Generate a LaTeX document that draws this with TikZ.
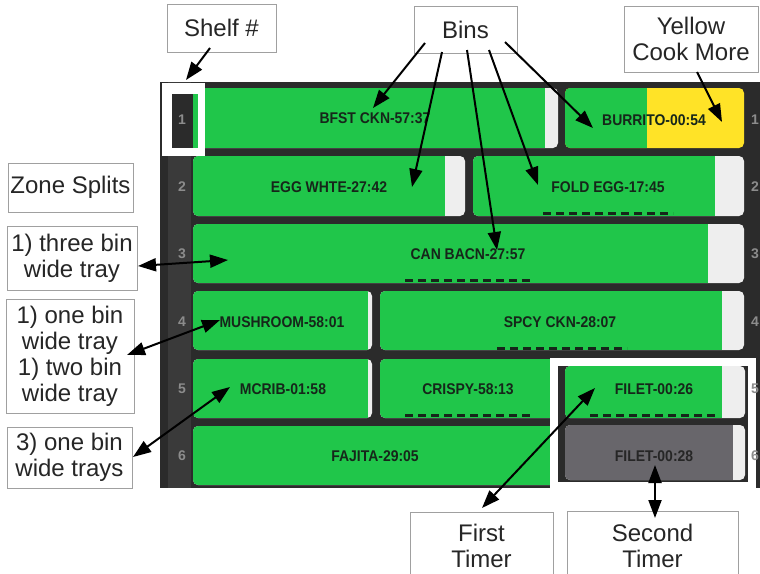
\documentclass[tikz,border=0pt]{standalone}
\usepackage{fontspec}
\setmainfont{Liberation Sans}
\newfontfamily\binfont[FakeStretch=0.9]{Liberation Sans}
\usetikzlibrary{arrows.meta}
\definecolor{scr}{HTML}{2B2B2B}
\definecolor{scrcol}{HTML}{3A3A3A}
\definecolor{bingreen}{HTML}{20C64A}
\definecolor{tailc}{HTML}{EEEEEE}
\definecolor{binyellow}{HTML}{FFE327}
\definecolor{bingray}{HTML}{68666B}
\definecolor{bintext}{HTML}{16261A}
\definecolor{numgray}{HTML}{8C8C8C}
\definecolor{boxline}{HTML}{A0A0A0}
\newcommand\drawbin[7]{%
  \fill[#7, rounded corners=5pt] (#1,#2) rectangle (#3,#4);
  \begin{scope}
    \clip[rounded corners=5pt] (#1,#2) rectangle (#3,#4);
    \fill[#6] (#1,#2) rectangle (#5,#4);
  \end{scope}}
\begin{document}
\begin{tikzpicture}[x=1pt,y=-1pt,
  callout/.style={draw=boxline, line width=0.8pt, fill=white, align=center, inner sep=0pt,
    font=\fontsize{24}{26}\selectfont, text=black!85},
  bintxt/.style={font=\binfont\bfseries\fontsize{15.5}{17}\selectfont, text=bintext, inner sep=0pt},
  shelfno/.style={font=\bfseries\fontsize{14}{16}\selectfont, text=numgray, inner sep=0pt},
  arr/.style={line width=2pt, -{Triangle[length=18pt,width=13pt]}},
  darr/.style={line width=2pt, {Triangle[length=18pt,width=13pt]}-{Triangle[length=18pt,width=13pt]}},
  dashl/.style={line width=3pt, dash pattern=on 8pt off 5pt, draw=bintext}]
\useasboundingbox[fill=white] (0,0) rectangle (760,573);
% screen
\fill[scr] (160,82) rectangle (760,488);
\fill[scrcol] (168,82) rectangle (191,488);
% row 1
\drawbin{193}{88}{558}{148}{545}{bingreen}{tailc}
\drawbin{565}{88}{744}{148}{647}{bingreen}{binyellow}
% row 2
\drawbin{193}{156}{465}{216}{445}{bingreen}{tailc}
\drawbin{473}{156}{744}{216}{715}{bingreen}{tailc}
% row 3
\drawbin{193}{224}{744}{283}{708}{bingreen}{tailc}
% row 4
\drawbin{193}{291}{372}{350}{368}{bingreen}{tailc}
\drawbin{380}{291}{744}{350}{722}{bingreen}{tailc}
% row 5
\drawbin{193}{359}{372}{418}{368}{bingreen}{tailc}
\drawbin{380}{359}{570}{418}{570}{bingreen}{tailc}
% row 6
\drawbin{193}{426}{570}{485}{570}{bingreen}{tailc}
% highlight frame
\fill[white] (550,358) rectangle (756,489);
\fill[scr] (558,366) rectangle (748,482);
\drawbin{565}{366}{745}{418}{722}{bingreen}{tailc}
\drawbin{565}{425}{745}{480}{733}{bingray}{tailc}
% shelf 1 highlight
\fill[white] (162,83) rectangle (205,156);
\fill[scr] (172,94) rectangle (193,148);
\fill[bingreen] (193,94) rectangle (198,148);
% shelf numbers
\node[shelfno] (l1) at (182,120) {1};
\node[shelfno] (l2) at (182,187) {2};
\node[shelfno] (l3) at (182,254) {3};
\node[shelfno] (l4) at (182,322) {4};
\node[shelfno] (l5) at (182,389) {5};
\node[shelfno] (l6) at (182,456) {6};
\node[shelfno, anchor=west] (r1) at (751,120) {1};
\node[shelfno, anchor=west] (r2) at (751,187) {2};
\node[shelfno, anchor=west] (r3) at (751,254) {3};
\node[shelfno, anchor=west] (r4) at (751,322) {4};
\node[shelfno, anchor=west] (r5) at (751,389) {5};
\node[shelfno, anchor=west] (r6) at (751,456) {6};
% bin texts
\node[bintxt] (b1) at (375,118) {BFST CKN-57:37};
\node[bintxt] (b2) at (654,120) {BURRITO-00:54};
\node[bintxt] (b3) at (329,187) {EGG WHTE-27:42};
\node[bintxt] (b4) at (608,187) {FOLD EGG-17:45};
\node[bintxt] (b5) at (468,254) {CAN BACN-27:57};
\node[bintxt] (b6) at (282,322) {MUSHROOM-58:01};
\node[bintxt] (b7) at (560,322) {SPCY CKN-28:07};
\node[bintxt] (b8) at (283,389) {MCRIB-01:58};
\node[bintxt] (b9) at (468,389) {CRISPY-58:13};
\node[bintxt] (b10) at (654,389) {FILET-00:26};
\node[bintxt] (b11) at (375,456) {FAJITA-29:05};
\node[bintxt, text=black!85] (b12) at (654,456) {FILET-00:28};
% dashed underlines
\draw[dashl] (543,213) -- (673,213);
\draw[dashl] (405,280) -- (533,280);
\draw[dashl] (497,348) -- (627,348);
\draw[dashl] (405,415) -- (533,415);
\draw[dashl] (590,415) -- (719,415);
% callouts
\node[callout, minimum width=109pt, minimum height=48pt] (shelf) at (221.5,28) {Shelf \#};
\node[callout, minimum width=103pt, minimum height=47pt] (bins) at (465.5,29.5) {Bins};
\node[callout, minimum width=134pt, minimum height=66pt] (yellow) at (691,39) {Yellow\\Cook More};
\node[callout, minimum width=125pt, minimum height=49pt] (zone) at (70.5,187.5) {Zone Splits};
\node[callout, minimum width=130pt, minimum height=64pt] (three) at (72,258) {1) three bin\\wide tray};
\node[callout, minimum width=128pt, minimum height=114pt] (onetwo) at (70,356) {1) one bin\\wide tray\\1) two bin\\wide tray};
\node[callout, minimum width=125pt, minimum height=61pt] (threeone) at (69.5,457.5) {3) one bin\\wide trays};
\node[callout, minimum width=143pt, minimum height=68pt] (first) at (481.5,546) {First\\Timer};
\node[callout, minimum width=171pt, minimum height=69pt] (second) at (652.5,545.5) {Second\\Timer};
% arrow end points
\coordinate (sA) at (210,48);  \coordinate (sB) at (186,80);
\coordinate (bA1) at (425,43); \coordinate (bB1) at (373,108);
\coordinate (bA2) at (442,52); \coordinate (bB2) at (412,187);
\coordinate (bA3) at (467,50); \coordinate (bB3) at (497,250);
\coordinate (bA4) at (489,50); \coordinate (bB4) at (538,185);
\coordinate (bA5) at (505,42); \coordinate (bB5) at (593,128);
\coordinate (yA) at (697,72);  \coordinate (yB) at (722,122);
\coordinate (tA) at (138,266); \coordinate (tB) at (228,260);
\coordinate (oA) at (127,355); \coordinate (oB) at (220,320);
\coordinate (hA) at (133,457); \coordinate (hB) at (230,387);
\coordinate (fA) at (482,508); \coordinate (fB) at (595,388);
\coordinate (gA) at (655,518); \coordinate (gB) at (655,465);
% arrows
\draw[arr] (sA) -- (sB);
\draw[arr] (bA1) -- (bB1);
\draw[arr] (bA2) -- (bB2);
\draw[arr] (bA3) -- (bB3);
\draw[arr] (bA4) -- (bB4);
\draw[arr] (bA5) -- (bB5);
\draw[arr] (yA) -- (yB);
\draw[darr] (tA) -- (tB);
\draw[darr] (oA) -- (oB);
\draw[darr] (hA) -- (hB);
\draw[darr] (fA) -- (fB);
\draw[darr] (gA) -- (gB);
\end{tikzpicture}
\end{document}
